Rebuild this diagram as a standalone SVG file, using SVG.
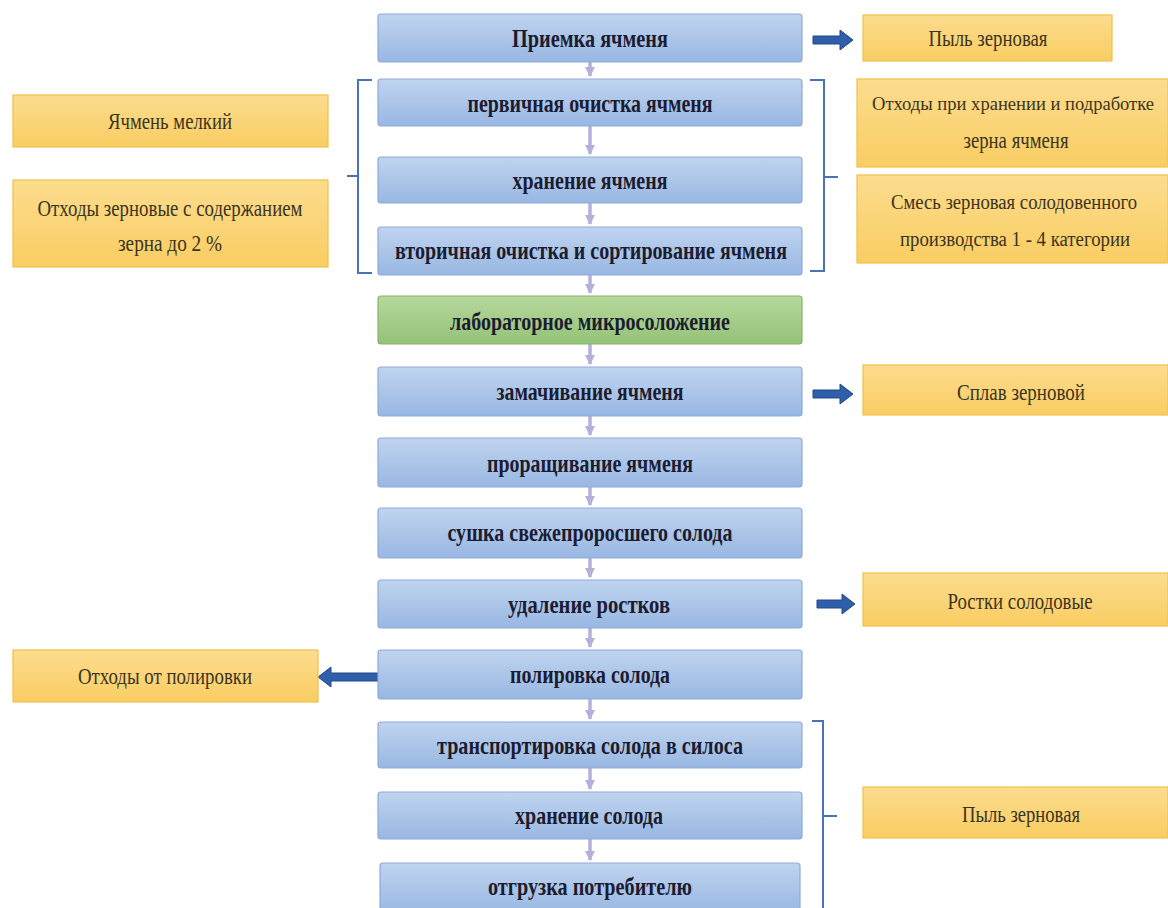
<svg xmlns="http://www.w3.org/2000/svg" width="1168" height="908" viewBox="0 0 1168 908">
<defs>
  <linearGradient id="gBlue" x1="0" y1="0" x2="0" y2="1">
    <stop offset="0" stop-color="#c0d4ef"/>
    <stop offset="1" stop-color="#98b7e2"/>
  </linearGradient>
  <linearGradient id="gGreen" x1="0" y1="0" x2="0" y2="1">
    <stop offset="0" stop-color="#b6d89c"/>
    <stop offset="1" stop-color="#94c278"/>
  </linearGradient>
  <linearGradient id="gOrange" x1="0" y1="0" x2="0" y2="1">
    <stop offset="0" stop-color="#fcdc8e"/>
    <stop offset="1" stop-color="#f9cd62"/>
  </linearGradient>
  <marker id="mSmall" viewBox="0 0 10 10" refX="9" refY="5" markerWidth="3" markerHeight="3" orient="auto">
    <path d="M0,0 L10,5 L0,10 z" fill="#b3b1dc"/>
  </marker>
  <style>
    .blue{fill:url(#gBlue);stroke:#8eabd8;stroke-width:1.2}
    .green{fill:url(#gGreen);stroke:#86b36a;stroke-width:1.2}
    .orange{fill:url(#gOrange);stroke:#f1c14a;stroke-width:1.2}
    .bt{font-family:"Liberation Serif","DejaVu Serif",serif;font-weight:bold;font-size:26px;fill:#1c1c30;text-anchor:middle}
    .ot{font-family:"Liberation Serif","DejaVu Serif",serif;font-size:23px;fill:#3b3420;text-anchor:middle}
    .os{font-size:20px}
    .oxs{font-size:18px}
    .down{stroke:#b3b1dc;stroke-width:3.5;fill:none}
    .br{stroke:#4a72b8;stroke-width:2;fill:none}
    .big{fill:#2f5fa9;stroke:#24498a;stroke-width:1}
  </style>
</defs>
<rect width="1168" height="908" fill="#ffffff"/>

<g id="connectors">
  <line class="down" x1="590" y1="62" x2="590" y2="76" marker-end="url(#mSmall)"/>
  <line class="down" x1="590" y1="126" x2="590" y2="154" marker-end="url(#mSmall)"/>
  <line class="down" x1="590" y1="203" x2="590" y2="224" marker-end="url(#mSmall)"/>
  <line class="down" x1="590" y1="275" x2="590" y2="293" marker-end="url(#mSmall)"/>
  <line class="down" x1="590" y1="344" x2="590" y2="364" marker-end="url(#mSmall)"/>
  <line class="down" x1="590" y1="416" x2="590" y2="435" marker-end="url(#mSmall)"/>
  <line class="down" x1="590" y1="487" x2="590" y2="505" marker-end="url(#mSmall)"/>
  <line class="down" x1="590" y1="558" x2="590" y2="577" marker-end="url(#mSmall)"/>
  <line class="down" x1="590" y1="628" x2="590" y2="647" marker-end="url(#mSmall)"/>
  <line class="down" x1="590" y1="699" x2="590" y2="719" marker-end="url(#mSmall)"/>
  <line class="down" x1="590" y1="768" x2="590" y2="789" marker-end="url(#mSmall)"/>
  <line class="down" x1="590" y1="839" x2="590" y2="860" marker-end="url(#mSmall)"/>
  <!-- brackets -->
  <path class="br" d="M372,80 L358,80 L358,273 L372,273 M358,176 L347,176"/>
  <path class="br" d="M810,80 L824,80 L824,271 L810,271 M824,177 L838,177"/>
  <path class="br" d="M812,721 L823,721 L823,912 M823,816 L837,816"/>
  <!-- thick arrows -->
  <polygon class="big" points="813,36 840,36 840,30 853,40 840,50 840,44 813,44"/>
  <polygon class="big" points="813,390 840,390 840,384 853,394 840,404 840,398 813,398"/>
  <polygon class="big" points="817,600 842,600 842,594 855,604 842,614 842,608 817,608"/>
  <polygon class="big" points="378,673 331,673 331,667 318,677 331,687 331,681 378,681"/>
</g>

<g id="n1"><rect class="blue" x="378" y="14" width="424" height="48" rx="3"/><text class="bt" x="590" y="47" textLength="156" lengthAdjust="spacingAndGlyphs">Приемка ячменя</text></g>
<g id="n2"><rect class="blue" x="378" y="79" width="424" height="47" rx="3"/><text class="bt" x="590" y="112" textLength="245" lengthAdjust="spacingAndGlyphs">первичная очистка ячменя</text></g>
<g id="n3"><rect class="blue" x="378" y="157" width="424" height="46" rx="3"/><text class="bt" x="590" y="189" textLength="155" lengthAdjust="spacingAndGlyphs">хранение ячменя</text></g>
<g id="n4"><rect class="blue" x="378" y="227" width="424" height="48" rx="3"/><text class="bt" x="591" y="259" textLength="392" lengthAdjust="spacingAndGlyphs">вторичная очистка и сортирование ячменя</text></g>
<g id="n5"><rect class="green" x="378" y="296" width="424" height="48" rx="3"/><text class="bt" x="590" y="330" textLength="280" lengthAdjust="spacingAndGlyphs">лабораторное микросоложение</text></g>
<g id="n6"><rect class="blue" x="378" y="367" width="424" height="49" rx="3"/><text class="bt" x="590" y="400" textLength="187" lengthAdjust="spacingAndGlyphs">замачивание ячменя</text></g>
<g id="n7"><rect class="blue" x="378" y="438" width="424" height="49" rx="3"/><text class="bt" x="590" y="472" textLength="206" lengthAdjust="spacingAndGlyphs">проращивание ячменя</text></g>
<g id="n8"><rect class="blue" x="378" y="508" width="424" height="50" rx="3"/><text class="bt" x="590" y="541" textLength="285" lengthAdjust="spacingAndGlyphs">сушка свежепроросшего солода</text></g>
<g id="n9"><rect class="blue" x="378" y="580" width="424" height="48" rx="3"/><text class="bt" x="589" y="613" textLength="162" lengthAdjust="spacingAndGlyphs">удаление ростков</text></g>
<g id="n10"><rect class="blue" x="378" y="650" width="424" height="49" rx="3"/><text class="bt" x="590" y="683" textLength="160" lengthAdjust="spacingAndGlyphs">полировка солода</text></g>
<g id="n11"><rect class="blue" x="378" y="722" width="424" height="46" rx="3"/><text class="bt" x="590" y="754" textLength="306" lengthAdjust="spacingAndGlyphs">транспортировка солода в силоса</text></g>
<g id="n12"><rect class="blue" x="378" y="792" width="424" height="47" rx="3"/><text class="bt" x="589" y="824" textLength="148" lengthAdjust="spacingAndGlyphs">хранение солода</text></g>
<g id="n13"><rect class="blue" x="380" y="863" width="420" height="50" rx="3"/><text class="bt" x="590" y="895" textLength="204" lengthAdjust="spacingAndGlyphs">отгрузка потребителю</text></g>

<g id="o1"><rect class="orange" x="863" y="15" width="249" height="46"/><text class="ot" x="988" y="46" textLength="119" lengthAdjust="spacingAndGlyphs">Пыль зерновая</text></g>
<g id="o2"><rect class="orange" x="857" y="79" width="311" height="88"/><text class="ot oxs" x="1013" y="110" textLength="282" lengthAdjust="spacingAndGlyphs">Отходы при хранении и подработке</text><text class="ot" x="1016" y="148" textLength="105" lengthAdjust="spacingAndGlyphs">зерна ячменя</text></g>
<g id="o3"><rect class="orange" x="857" y="175" width="311" height="88"/><text class="ot os" x="1014" y="209" textLength="246" lengthAdjust="spacingAndGlyphs">Смесь зерновая солодовенного</text><text class="ot os" x="1015" y="246" textLength="230" lengthAdjust="spacingAndGlyphs">производства 1 - 4 категории</text></g>
<g id="o4"><rect class="orange" x="863" y="365" width="305" height="50"/><text class="ot" x="1021" y="400" textLength="128" lengthAdjust="spacingAndGlyphs">Сплав зерновой</text></g>
<g id="o5"><rect class="orange" x="863" y="573" width="305" height="53"/><text class="ot" x="1020" y="609" textLength="145" lengthAdjust="spacingAndGlyphs">Ростки солодовые</text></g>
<g id="o6"><rect class="orange" x="863" y="787" width="305" height="51"/><text class="ot" x="1021" y="822" textLength="118" lengthAdjust="spacingAndGlyphs">Пыль зерновая</text></g>
<g id="o7"><rect class="orange" x="13" y="95" width="315" height="52"/><text class="ot" x="170" y="129" textLength="124" lengthAdjust="spacingAndGlyphs">Ячмень мелкий</text></g>
<g id="o8"><rect class="orange" x="13" y="180" width="315" height="87"/><text class="ot" x="170" y="216" textLength="265" lengthAdjust="spacingAndGlyphs">Отходы зерновые с содержанием</text><text class="ot" x="170" y="251" textLength="104" lengthAdjust="spacingAndGlyphs">зерна до 2 %</text></g>
<g id="o9"><rect class="orange" x="13" y="650" width="305" height="52"/><text class="ot" x="165" y="684" textLength="174" lengthAdjust="spacingAndGlyphs">Отходы от полировки</text></g>
</svg>
